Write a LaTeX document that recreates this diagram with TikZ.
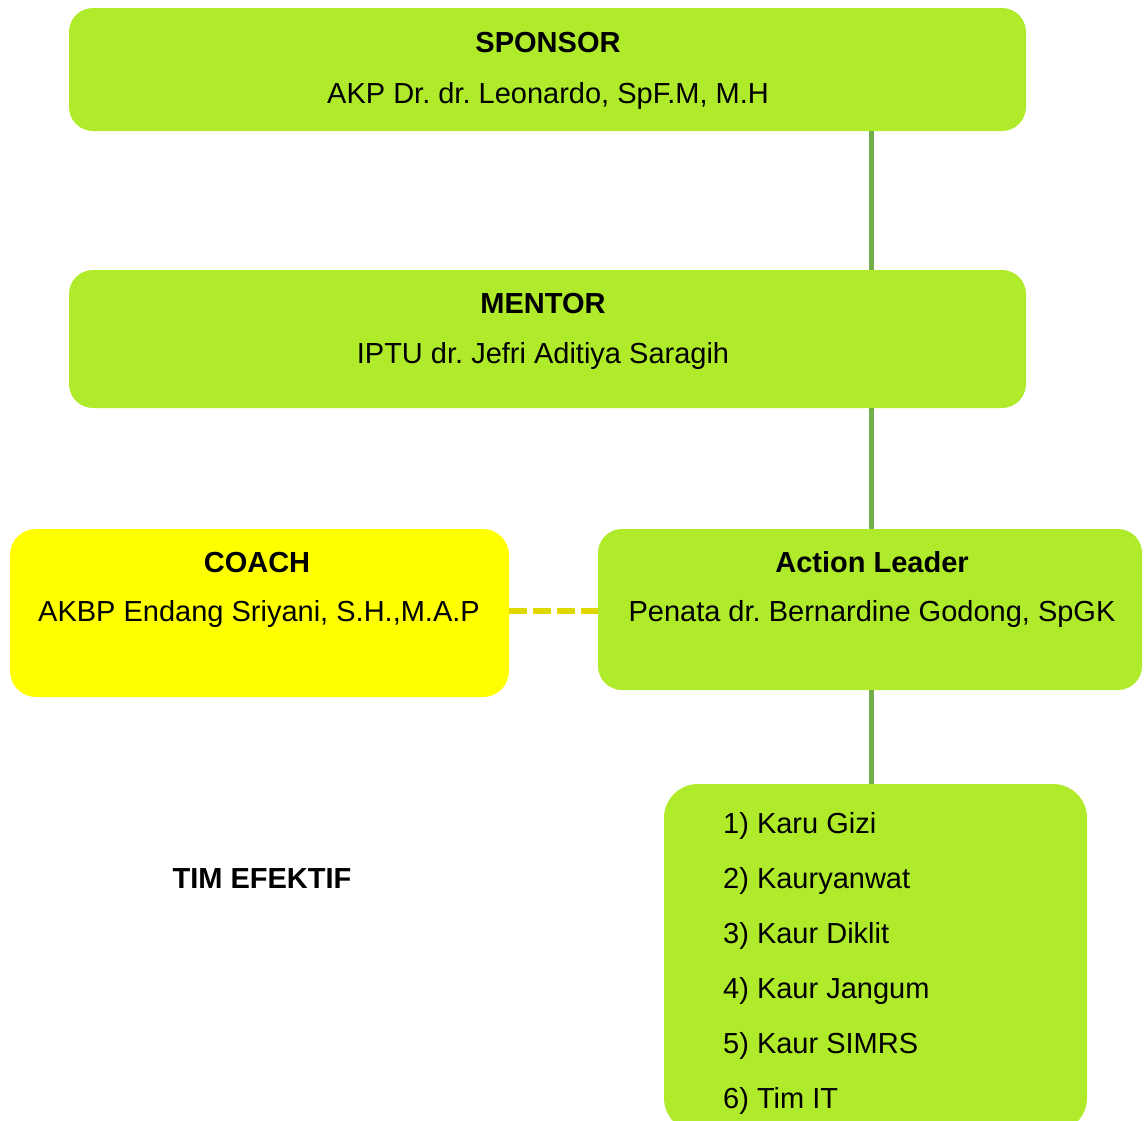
\documentclass[tikz,border=0pt]{standalone}
\usepackage{fontspec}
\setmainfont{Liberation Sans}
\begin{document}
\frenchspacing
\definecolor{boxgreen}{RGB}{175,235,43}
\definecolor{boxyellow}{RGB}{255,255,0}
\definecolor{linkgreen}{RGB}{116,174,74}
\definecolor{linkyellow}{RGB}{222,216,0}
\begin{tikzpicture}[x=1pt,y=-1pt,
  txt/.style={font=\fontsize{29}{34}\selectfont, inner sep=0pt, anchor=base},
  hdr/.style={txt, font=\fontsize{29}{34}\selectfont\bfseries},
  gbox/.style={fill=boxgreen, draw=none, rounded corners=24pt},
  ybox/.style={fill=boxyellow, draw=none, rounded corners=26pt},
  solidlink/.style={draw=linkgreen, line width=5.5pt},
  dashlink/.style={draw=linkyellow, line width=5.5pt, dash pattern=on 18pt off 6pt}]
\useasboundingbox (0,0) rectangle (1144,1120);
\clip (0,0) rectangle (1144,1120);

% boxes
\path[gbox] (69,8) rectangle (1026,131);
\coordinate (sponsorS) at (871.5,131);
\path[gbox] (69,270) rectangle (1026,408);
\coordinate (mentorN) at (871.5,270);
\coordinate (mentorS) at (871.5,408);
\path[ybox] (10,529) rectangle (509,697);
\coordinate (coachE) at (509,611);
\path[gbox] (598,529) rectangle (1142,690);
\coordinate (leaderN) at (871.5,529);
\coordinate (leaderS) at (871.5,690);
\coordinate (leaderW) at (598,611);
\path[gbox, rounded corners=34pt] (664,784) rectangle (1087,1132);
\coordinate (teamN) at (871.5,784);

% connectors
\draw[solidlink] (sponsorS) -- (mentorN);
\draw[solidlink] (mentorS) -- (leaderN);
\draw[solidlink] (leaderS) -- (teamN);
\draw[dashlink] (coachE) -- (leaderW);

% texts
\node[hdr] (sponsorT) at (548,52) {SPONSOR};
\node[txt] (sponsorN) at (548,103) {AKP Dr. dr. Leonardo, SpF.M, M.H};
\node[hdr] (mentorT) at (543,313) {MENTOR};
\node[txt] (mentorN) at (543,363) {IPTU dr. Jefri Aditiya Saragih};
\node[hdr] (coachT) at (257,572) {COACH};
\node[txt] (coachN) at (259,621) {AKBP Endang Sriyani, S.H.,M.A.P};
\node[hdr] (leaderT) at (872,572) {Action Leader};
\node[txt] (leaderN) at (872,621) {Penata dr. Bernardine Godong, SpGK};
\node[hdr] (teamT) at (262,888) {TIM EFEKTIF};

\node[txt, anchor=base west] (m1) at (723,833) {1) Karu Gizi};
\node[txt, anchor=base west] (m2) at (723,888) {2) Kauryanwat};
\node[txt, anchor=base west] (m3) at (723,943) {3) Kaur Diklit};
\node[txt, anchor=base west] (m4) at (723,998) {4) Kaur Jangum};
\node[txt, anchor=base west] (m5) at (723,1053) {5) Kaur SIMRS};
\node[txt, anchor=base west] (m6) at (723,1108) {6) Tim IT};
\end{tikzpicture}
\end{document}
